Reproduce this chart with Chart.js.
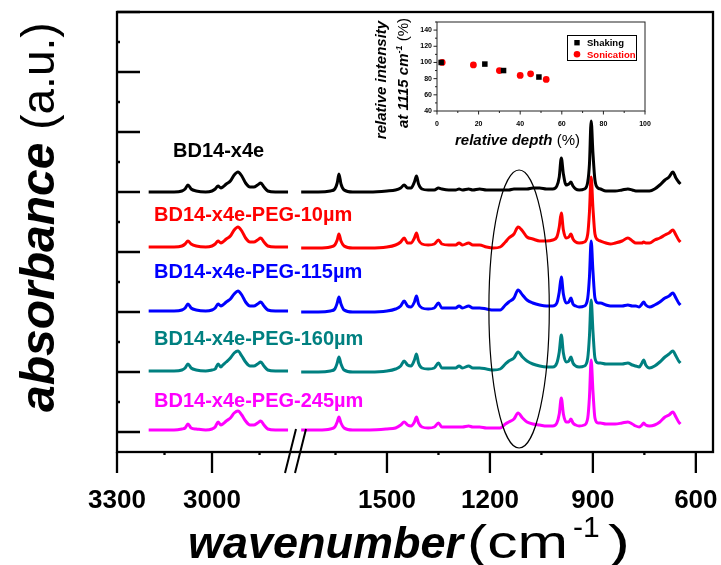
<!DOCTYPE html>
<html>
<head>
<meta charset="utf-8">
<script src="https://cdn.jsdelivr.net/npm/chart.js@4.4.1/dist/chart.umd.min.js"></script>
<style>
body { margin: 0; background: #fff; }
#wrap { position: relative; width: 721px; height: 565px; }
#main { position: absolute; left: 0; top: 0; }
#inset { position: absolute; left: 360px; top: 14px; }
</style>
</head>
<body>
<div id="wrap">
<canvas id="main" width="721" height="565"></canvas>
<canvas id="inset" width="300" height="140"></canvas>
</div>
<script>
var FONT = "'Liberation Sans', Arial, Helvetica, sans-serif";

// 波数 (cm-1)，左段 / 右段 (断轴)
var waveLeft = [3200, 3120, 3095, 3085, 3076, 3066, 3050, 3020, 3000, 2990,
  2981, 2972, 2966, 2955, 2942, 2930, 2918, 2906, 2894, 2880,
  2868, 2856, 2846, 2836, 2824, 2800, 2760];
var waveRight = [1750, 1700, 1665, 1652, 1645, 1640, 1634, 1625, 1600, 1550,
  1500, 1475, 1460, 1450, 1440, 1430, 1420, 1414, 1408, 1398,
  1380, 1362, 1350, 1340, 1320, 1300, 1290, 1280, 1262, 1250,
  1230, 1210, 1190, 1170, 1155, 1145, 1130, 1118, 1105, 1092,
  1075, 1055, 1035, 1017, 1005, 998, 992, 986, 978, 970,
  964, 958, 950, 940, 925, 915, 910, 905, 900, 894,
  885, 878, 862, 849, 835, 815, 798, 785, 775, 765,
  757, 752, 746, 735, 720, 705, 690, 678, 667, 658, 650, 645];

var tickLeft = [3300, 3150, 3000, 2850];
var tickRight = [1650, 1500, 1350, 1200, 1050, 900, 750, 600];
var tickY = [0, 30, 60, 90, 120, 150, 180, 210, 240, 270, 300, 330, 360, 390, 420];

var names = ['BD14-x4e', 'BD14-x4e-PEG-10µm', 'BD14-x4e-PEG-115µm', 'BD14-x4e-PEG-160µm', 'BD14-x4e-PEG-245µm'];
var colors = ['#000000', '#ff0000', '#0000ff', '#008080', '#ff00ff'];
var offsets = [240, 180, 120, 60, 0];

// 吸光度 (a.u.)
var blackLeft = [0, 0, 1, 3, 7, 3, 1, 0, 1, 3, 6, 4, 5, 8, 11, 17, 20, 16, 9, 5, 5, 7, 9, 5, 1, 0, 0];
var redLeft = [5, 5, 6, 8, 11, 8, 6, 5, 6, 8, 11, 9, 10, 13, 16, 22, 25, 21, 14, 10, 10, 12, 14, 10, 6, 5, 5];
var blueLeft = [1, 1, 2, 4, 8, 4, 2, 1, 2, 4, 8, 6, 7, 10, 13, 18, 21, 17, 10, 6, 6, 8, 10, 6, 2, 1, 1];
var tealLeft = [1, 1, 2, 4, 8, 4, 2, 1, 2, 3, 8, 5, 7, 10, 14, 19, 21, 16, 10, 6, 6, 8, 10, 6, 2, 1, 1];
var pinkLeft = [2, 2, 3, 4, 8, 4, 3, 2, 3, 5, 10, 7, 8, 11, 14, 19, 21, 17, 11, 7, 7, 9, 11, 7, 3, 2, 2];

var blackRight = [0, 0, 1, 3, 9, 18, 8, 2, 0, 0,
  1, 2, 4, 7, 4, 4, 10, 16, 8, 3,
  2, 2, 4, 3, 2, 2, 3, 2, 3, 2,
  3, 2, 2, 2, 2, 2, 3, 3, 3, 3,
  4, 4, 3, 3, 6, 15, 34, 18, 7, 8,
  10, 6, 3, 2, 3, 10, 28, 71, 40, 12,
  4, 3, 1, 1, 1, 2, 3, 2, 1, 1,
  1, 1, 1, 1, 3, 7, 12, 15, 20, 14, 10, 8];
var redRight = [4, 4, 5, 7, 12, 18, 11, 6, 4, 4,
  5, 7, 10, 14, 9, 9, 14, 19, 12, 8,
  7, 8, 12, 8, 7, 7, 9, 7, 9, 7,
  7, 5, 4, 5, 10, 14, 18, 25, 21, 15,
  13, 11, 11, 12, 15, 25, 39, 22, 14, 15,
  18, 13, 10, 9, 10, 18, 40, 75, 45, 18,
  12, 11, 9, 8, 9, 11, 14, 11, 9, 9,
  9, 10, 9, 9, 12, 14, 17, 19, 22, 17, 12, 10];
var blueRight = [0, 0, 1, 3, 9, 15, 8, 2, 0, 0,
  1, 3, 6, 11, 6, 5, 10, 16, 8, 4,
  3, 4, 9, 4, 4, 4, 6, 4, 6, 4,
  4, 3, 2, 2, 7, 10, 14, 22, 17, 12,
  9, 7, 6, 6, 9, 20, 35, 18, 9, 10,
  14, 8, 6, 5, 6, 14, 35, 71, 42, 14,
  9, 9, 7, 6, 6, 6, 7, 6, 6, 5,
  8, 10, 7, 5, 7, 10, 14, 16, 19, 14, 9, 7];
var tealRight = [0, 0, 1, 3, 9, 15, 8, 2, 0, 0,
  1, 3, 6, 11, 7, 6, 12, 18, 9, 4,
  3, 4, 9, 4, 4, 4, 6, 4, 6, 4,
  4, 3, 2, 3, 8, 11, 14, 20, 15, 11,
  8, 6, 5, 5, 9, 20, 37, 19, 10, 11,
  15, 9, 6, 5, 6, 14, 36, 72, 42, 14,
  9, 9, 8, 8, 8, 8, 9, 7, 6, 5,
  9, 12, 7, 4, 6, 10, 15, 18, 21, 16, 11, 9];
var pinkRight = [2, 2, 3, 5, 10, 15, 9, 4, 2, 2,
  3, 4, 7, 10, 7, 6, 10, 15, 9, 5,
  4, 5, 9, 5, 5, 5, 5, 5, 6, 5,
  5, 4, 4, 4, 8, 10, 13, 19, 14, 10,
  8, 7, 6, 6, 9, 18, 34, 18, 10, 10,
  13, 9, 7, 6, 7, 14, 35, 72, 42, 14,
  9, 9, 8, 8, 8, 9, 10, 8, 6, 5,
  7, 9, 7, 6, 7, 10, 15, 17, 20, 15, 10, 8];

// 椭圆标记 1115 cm-1
var markWave = 1115, markHalf = 88, markTop = 262, markBottom = -16;

// 插图: 相对深度 (%) / 1115 cm-1 相对强度 (%)
var shakeDepth = [2, 23, 32, 49];
var shakeInt = [100, 98, 90, 82];
var sonicDepth = [2.5, 17.5, 30, 40, 45, 52.5];
var sonicInt = [100, 97, 90, 84, 86, 79];
var insetTickX = [0, 10, 20, 30, 40, 50, 60, 70, 80, 90, 100];
var insetTickY = [40, 50, 60, 70, 80, 90, 100, 110, 120, 130, 140, 150];

function pairs(xs, ys, off) {
  var out = [];
  for (var i = 0; i < xs.length; i++) out.push({ x: xs[i], y: ys[i] + (off || 0) });
  return out;
}

var leftSets = [blackLeft, redLeft, blueLeft, tealLeft, pinkLeft];
var rightSets = [blackRight, redRight, blueRight, tealRight, pinkRight];
var datasets = [];
for (var k = 0; k < names.length; k++) {
  var base = { label: names[k], borderColor: colors[k], borderWidth: 3, pointRadius: 0,
    cubicInterpolationMode: 'monotone', fill: false, yAxisID: 'y' };
  datasets.push(Object.assign({}, base, { xAxisID: 'xL', data: pairs(waveLeft, leftSets[k], offsets[k]) }));
  datasets.push(Object.assign({}, base, { xAxisID: 'xR', data: pairs(waveRight, rightSets[k], offsets[k]) }));
}

function xAxis(ticks, min, max, weight) {
  return {
    type: 'linear', position: 'bottom', stack: 'wn', stackWeight: weight,
    reverse: true, min: min, max: max,
    grid: { display: false, drawTicks: false }, border: { display: false },
    afterBuildTicks: function (s) { s.ticks = ticks.map(function (v) { return { value: v }; }); },
    afterFit: function (s) { s.height = 113; s.paddingLeft = 0; s.paddingRight = 0; },
    ticks: {
      autoSkip: false, maxRotation: 0, padding: 33, color: '#000',
      font: { family: FONT, size: 26, weight: 'bold' },
      callback: function (v) { return v % 300 === 0 ? String(v) : ''; }
    }
  };
}

function txt(ctx, s, x, y, font, color) {
  ctx.font = font;
  ctx.fillStyle = color || '#000';
  ctx.fillText(s, x, y);
  return ctx.measureText(s).width;
}

// 横向拉伸到指定宽度
function fitTxt(ctx, s, x, y, font, width) {
  ctx.font = font;
  ctx.fillStyle = '#000';
  var w = ctx.measureText(s).width;
  ctx.save();
  ctx.translate(x, y);
  ctx.scale(width / w, 1);
  ctx.fillText(s, 0, 0);
  ctx.restore();
}

var labelPos = [[173, 157], [154, 221], [154, 278], [154, 345], [154, 407]];

var mainDeco = {
  id: 'mainDeco',
  afterDraw: function (chart) {
    var ctx = chart.ctx, a = chart.chartArea;
    var y = chart.scales.y, xL = chart.scales.xL, xR = chart.scales.xR;
    ctx.save();
    ctx.strokeStyle = '#000';
    ctx.lineWidth = 2.3;
    ctx.strokeRect(a.left, a.top, a.right - a.left, a.bottom - a.top);
    ctx.beginPath();
    y.ticks.forEach(function (t) {
      var py = y.getPixelForValue(t.value);
      var len = t.value % 60 === 0 ? 23 : 3;
      ctx.moveTo(a.left, py); ctx.lineTo(a.left + len, py);
    });
    [xL, xR].forEach(function (s) {
      s.ticks.forEach(function (t) {
        var px = s.getPixelForValue(t.value);
        var len = t.value % 300 === 0 ? 21 : 3;
        ctx.moveTo(px, a.bottom); ctx.lineTo(px, a.bottom + len);
      });
    });
    ctx.stroke();

    // 断轴符号 //
    var bx = xL.right;
    ctx.lineWidth = 2;
    ctx.beginPath();
    ctx.moveTo(bx - 10, a.bottom + 21); ctx.lineTo(bx + 1, a.bottom - 23);
    ctx.moveTo(bx, a.bottom + 21); ctx.lineTo(bx + 11, a.bottom - 23);
    ctx.stroke();

    // 椭圆
    var cx = xR.getPixelForValue(markWave);
    var rx = Math.abs(xR.getPixelForValue(markWave - markHalf) - cx);
    var y1 = y.getPixelForValue(markTop), y2 = y.getPixelForValue(markBottom);
    ctx.lineWidth = 1.2;
    ctx.beginPath();
    ctx.ellipse(cx, (y1 + y2) / 2, rx, Math.abs(y2 - y1) / 2, 0, 0, Math.PI * 2);
    ctx.stroke();

    // 曲线名称
    ctx.textAlign = 'left';
    ctx.textBaseline = 'alphabetic';
    for (var i = 0; i < names.length; i++) {
      txt(ctx, names[i], labelPos[i][0], labelPos[i][1], 'bold 20px ' + FONT, colors[i]);
    }

    // x 轴标题
    txt(ctx, 'wavenumber', 188, 558, 'italic bold 45px ' + FONT);
    fitTxt(ctx, '(cm', 467, 558, '46px ' + FONT, 101);
    txt(ctx, '-1', 573, 537, '30px ' + FONT);
    fitTxt(ctx, ')', 608, 558, '46px ' + FONT, 22);

    // y 轴标题
    ctx.translate(54, 412);
    ctx.rotate(-Math.PI / 2);
    var w = txt(ctx, 'absorbance', 0, 0, 'italic bold 48px ' + FONT);
    txt(ctx, ' (a.u.)', w, 0, '46px ' + FONT);
    ctx.restore();
  }
};

new Chart(document.getElementById('main'), {
  type: 'line',
  data: { datasets: datasets },
  options: {
    responsive: false, animation: false,
    layout: { padding: { top: 12, right: 8, left: 0, bottom: 0 } },
    plugins: { legend: { display: false }, tooltip: { enabled: false } },
    scales: {
      xL: xAxis(tickLeft, 2738, 3300, 178),
      xR: xAxis(tickRight, 550, 1768, 418),
      y: {
        type: 'linear', position: 'left', min: -20, max: 420,
        grid: { display: false, drawTicks: false }, border: { display: false },
        ticks: { display: false },
        afterBuildTicks: function (s) { s.ticks = tickY.map(function (v) { return { value: v }; }); },
        afterFit: function (s) { s.width = 117; s.paddingTop = 0; s.paddingBottom = 0; }
      }
    }
  },
  plugins: [mainDeco]
});

// 插图
var insetDeco = {
  id: 'insetDeco',
  afterDraw: function (chart) {
    var ctx = chart.ctx, a = chart.chartArea, sx = chart.scales.x, sy = chart.scales.y;
    ctx.save();
    ctx.strokeStyle = '#222';
    ctx.lineWidth = 1;
    ctx.strokeRect(a.left, a.top, a.right - a.left, a.bottom - a.top);
    ctx.beginPath();
    sx.ticks.forEach(function (t) {
      var px = sx.getPixelForValue(t.value);
      var len = t.value % 20 === 0 ? 3.5 : 2;
      ctx.moveTo(px, a.bottom); ctx.lineTo(px, a.bottom + len);
    });
    sy.ticks.forEach(function (t) {
      var py = sy.getPixelForValue(t.value);
      var len = t.value % 20 === 0 ? 3.5 : 2;
      ctx.moveTo(a.left, py); ctx.lineTo(a.left - len, py);
    });
    ctx.stroke();

    // 图例
    ctx.strokeStyle = '#000';
    ctx.strokeRect(207.5, 21.5, 69, 25);
    ctx.fillStyle = '#000';
    ctx.fillRect(214.3, 26, 5.4, 5.4);
    ctx.fillStyle = '#ff0000';
    ctx.beginPath();
    ctx.arc(217, 40.3, 3.3, 0, Math.PI * 2);
    ctx.fill();
    ctx.textAlign = 'left';
    txt(ctx, 'Shaking', 227, 32, 'bold 9.5px ' + FONT, '#000');
    txt(ctx, 'Sonication', 227, 43.7, 'bold 9.5px ' + FONT, '#ff0000');

    // x 标题
    var w = txt(ctx, 'relative depth', 95, 131, 'italic bold 15px ' + FONT);
    txt(ctx, ' (%)', 95 + w, 131, '15px ' + FONT);

    // y 标题 (两行)
    ctx.save();
    ctx.translate(26, 66);
    ctx.rotate(-Math.PI / 2);
    ctx.textAlign = 'center';
    txt(ctx, 'relative intensity', 0, 0, 'italic bold 15px ' + FONT);
    ctx.restore();

    ctx.save();
    ctx.translate(48, 59);
    ctx.rotate(-Math.PI / 2);
    ctx.textAlign = 'left';
    ctx.font = 'italic bold 15px ' + FONT;
    var w1 = ctx.measureText('at 1115 cm').width;
    ctx.font = 'italic bold 9px ' + FONT;
    var w2 = ctx.measureText('-1').width;
    ctx.font = '15px ' + FONT;
    var w3 = ctx.measureText(' (%)').width;
    var x0 = -(w1 + w2 + w3) / 2;
    txt(ctx, 'at 1115 cm', x0, 0, 'italic bold 15px ' + FONT);
    txt(ctx, '-1', x0 + w1, -6, 'italic bold 9px ' + FONT);
    txt(ctx, ' (%)', x0 + w1 + w2, 0, '15px ' + FONT);
    ctx.restore();
    ctx.restore();
  }
};

function insetAxis(ticks, min, max, pad, fitFn) {
  return {
    type: 'linear', min: min, max: max,
    grid: { display: false, drawTicks: false }, border: { display: false },
    afterBuildTicks: function (s) { s.ticks = ticks.map(function (v) { return { value: v }; }); },
    afterFit: fitFn,
    ticks: {
      autoSkip: false, maxRotation: 0, padding: pad, color: '#000',
      font: { family: FONT, size: 7, weight: 'bold' },
      callback: function (v) { return v % 20 === 0 && v <= 140 ? String(v) : ''; }
    }
  };
}

new Chart(document.getElementById('inset'), {
  type: 'scatter',
  data: {
    datasets: [
      { label: 'Shaking', data: pairs(shakeDepth, shakeInt), pointStyle: 'rect', pointRadius: 3.9,
        backgroundColor: '#000', borderColor: '#000', borderWidth: 0 },
      { label: 'Sonication', data: pairs(sonicDepth, sonicInt), pointStyle: 'circle', pointRadius: 3.4,
        backgroundColor: '#ff0000', borderColor: '#ff0000', borderWidth: 0 }
    ]
  },
  options: {
    responsive: false, animation: false,
    layout: { padding: { top: 8, right: 15, left: 0, bottom: 0 } },
    plugins: { legend: { display: false }, tooltip: { enabled: false } },
    scales: {
      x: Object.assign(insetAxis(insetTickX, 0, 100, 9, function (s) { s.height = 43; s.paddingLeft = 0; s.paddingRight = 0; }), { position: 'bottom' }),
      y: Object.assign(insetAxis(insetTickY, 40, 150, 5, function (s) { s.width = 77; s.paddingTop = 0; s.paddingBottom = 0; }), { position: 'left' })
    }
  },
  plugins: [insetDeco]
});
</script>
</body>
</html>
